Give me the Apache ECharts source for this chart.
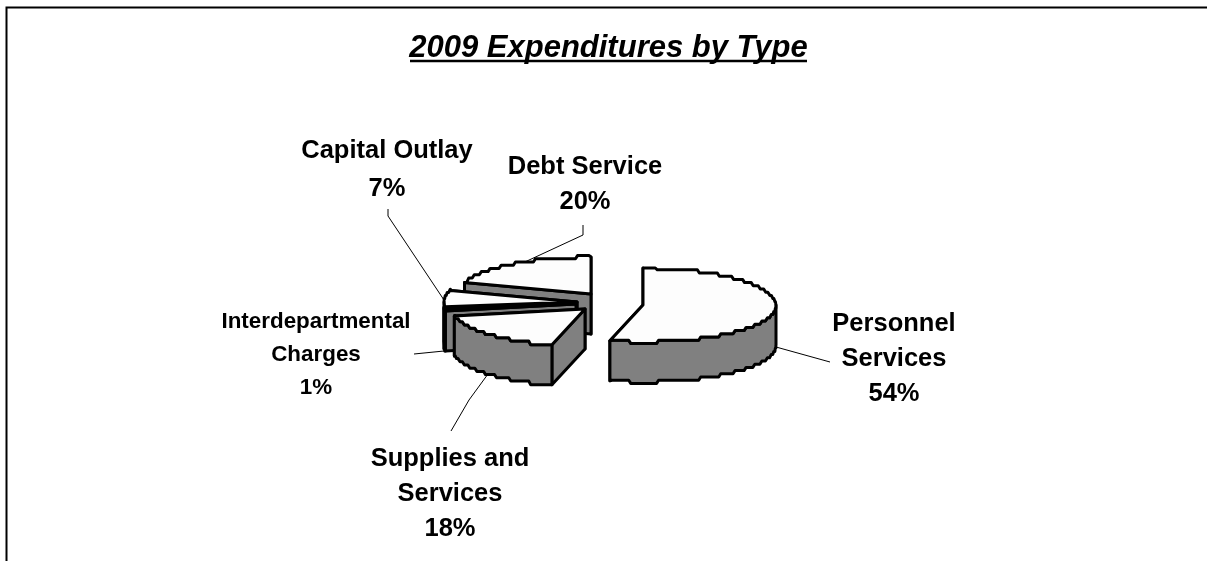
<!DOCTYPE html>
<html><head><meta charset="utf-8">
<style>html,body{margin:0;padding:0;background:#fff}#c{width:1207px;height:561px}</style>
<script src="https://cdn.jsdelivr.net/npm/echarts@6/dist/echarts.min.js"></script>
</head><body><div id="c"></div>
<script>
const categories = ['Personnel\nServices', 'Supplies and\nServices', 'Interdepartmental\nCharges', 'Capital Outlay', 'Debt Service'];
const values = [54, 18, 1, 7, 20];
const titleText = '2009 Expenditures by Type';

const RX = 133, RY = 37, DEPTH = 40, STEP = 3.2;
const centres = [[643,305],[585,309],[576,304],[577,302],[591,294]];
const labelPos = [[894,359,25.5,35],[450,494,25.5,35],[316,355,22.4,33],[387,170,25.5,38],[585,184,25.5,35]];
const leaders = [
  [[776,347],[830,362]],
  [[488,374],[469,400],[451,431]],
  [[444,351],[414,354]],
  [[444,300],[388,216],[388,209]],
  [[514,267],[583,235],[583,225]]
];
const total = values.reduce((a, b) => a + b, 0);
const rad = v => v / total * Math.PI * 2;
const starts = [];
values.reduce((acc, v, i) => { starts[i] = acc; return acc + rad(v); }, 0);

function rim(c, a0, a1, dy) {
  const pts = [], n = Math.max(2, Math.ceil((a1 - a0) / 0.006));
  let last = null;
  for (let k = 0; k <= n; k++) {
    const a = a0 + (a1 - a0) * k / n;
    const x = c[0] + RX * Math.sin(a);
    const qy = Math.round(-RY * Math.cos(a) / STEP) * STEP;
    if (last === null || qy !== last) pts.push([x, c[1] + qy + dy]);
    last = qy;
  }
  pts[0] = [c[0] + RX * Math.sin(a0), c[1] - RY * Math.cos(a0) + dy];
  pts.push([c[0] + RX * Math.sin(a1), c[1] - RY * Math.cos(a1) + dy]);
  return stair(pts);
}
function stair(pts) {
  const out = [pts[0]];
  for (let i = 1; i < pts.length; i++) {
    const p = pts[i - 1], q = pts[i];
    const w = Math.min(2, Math.abs(q[0] - p[0]) / 2) * Math.sign(q[0] - p[0]);
    out.push([q[0] - w, p[1]], q);
  }
  return out;
}
const GREY = '#808080', TOP = '#fdfdfd', INK = '#000';
const lw = 3;

function renderItem(params, api) {
  const i = params.dataIndex, c = centres[i];
  const a0 = starts[i], a1 = a0 + rad(values[i]);
  const base = (5 - i) * 10;
  const kids = [];
  const poly = (pts, fill, z) => kids.push({
    type: 'polygon', z2: base + z, shape: { points: pts },
    style: { fill: fill, stroke: INK, lineWidth: lw, lineJoin: 'round' }
  });
  const wall = (a, z) => {
    const p = [c[0] + RX * Math.sin(a), c[1] - RY * Math.cos(a)];
    poly([c, p, [p[0], p[1] + DEPTH], [c[0], c[1] + DEPTH]], GREY, z);
  };
  wall(a1, 0); wall(a0, 1);
  const f0 = Math.max(a0, Math.PI / 2), f1 = Math.min(a1, Math.PI * 1.5);
  if (f1 > f0) {
    const up = rim(c, f0, f1, 0), lo = rim(c, f0, f1, DEPTH).reverse();
    poly(up.concat(lo), GREY, 2);
  }
  poly([c].concat(rim(c, a0, a1, 0)), TOP, 3);

  const L = labelPos[i];
  const pct = Math.round(values[i] / total * 100) + '%';
  kids.push({
    type: 'text', z2: 200, x: L[0], y: L[1],
    style: { text: categories[i] + '\n' + pct, fontFamily: 'Liberation Sans', fontWeight: 'bold',
      fontSize: L[2], lineHeight: L[3], fill: '#000', align: 'center', verticalAlign: 'middle' }
  });
  kids.push({
    type: 'polyline', z2: base - 1, shape: { points: leaders[i] },
    style: { stroke: INK, lineWidth: 1, fill: null }
  });
  return { type: 'group', children: kids };
}

const chart = echarts.init(document.getElementById('c'), null, { renderer: 'canvas' });
chart.setOption({
  animation: false,
  backgroundColor: '#fff',
  title: {
    text: titleText, left: 603.5, top: 28, textAlign: 'center',
    textStyle: { fontFamily: 'Liberation Sans', fontSize: 31, fontWeight: 'bold', fontStyle: 'italic', color: '#000' }
  },
  graphic: [
    { type: 'polyline', z: 10, shape: { points: [[6.5,561],[6.5,7.5],[1207,7.5]] }, style: { stroke: '#000', lineWidth: 2, fill: null } },
    { type: 'line', z: 10, shape: { x1: 410, y1: 61, x2: 807, y2: 61 }, style: { stroke: '#000', lineWidth: 2.5 } }
  ],
  series: [{
    type: 'custom', coordinateSystem: 'none', silent: true,
    data: values.map((v, i) => ({ name: categories[i], value: v })),
    renderItem: renderItem
  }]
});
</script></body></html>
